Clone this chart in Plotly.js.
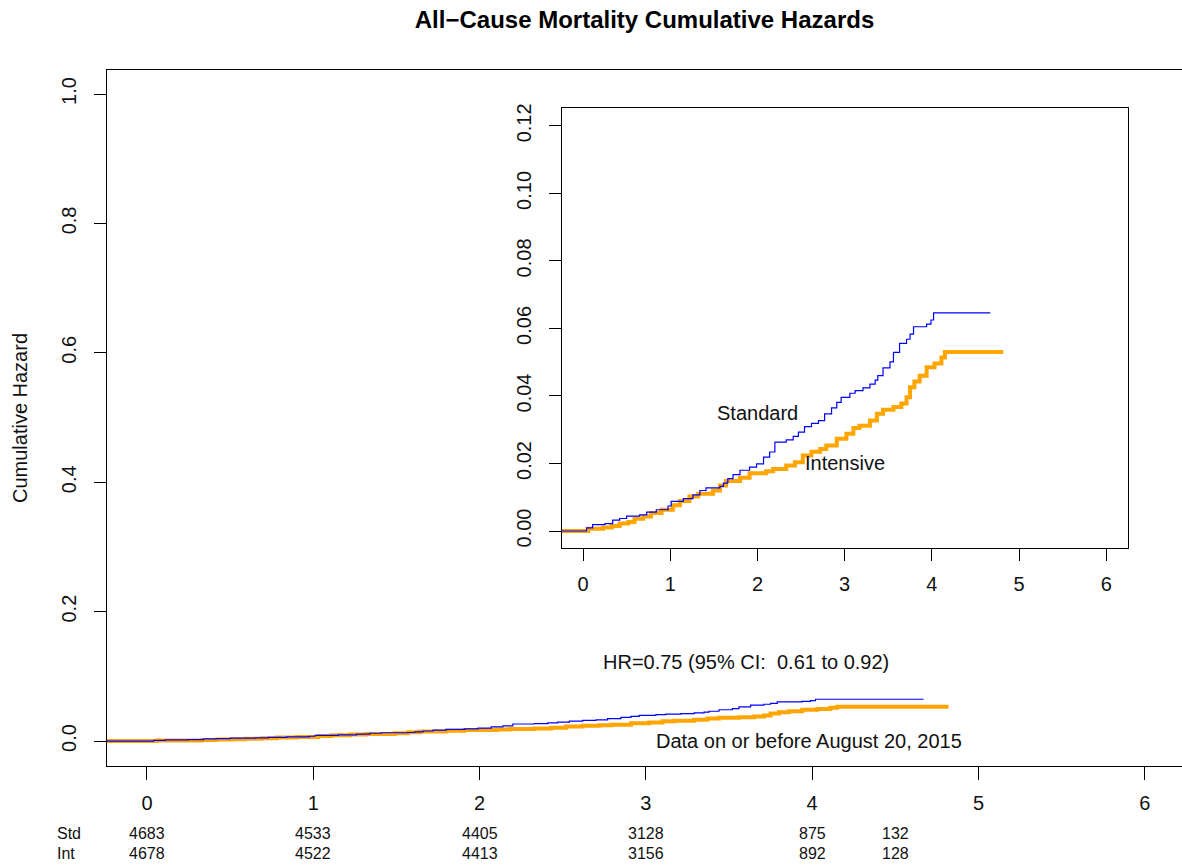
<!DOCTYPE html>
<html>
<head>
<meta charset="utf-8">
<script src="https://cdn.plot.ly/plotly-3.0.1.min.js"></script>
<style>html,body{margin:0;padding:0;background:#fff;} #chart{width:1182px;height:867px;}</style>
</head>
<body>
<div id="chart"></div>
<script>
// ---- data ----
const stdTime = [-0.25, 0.04, 0.11, 0.25, 0.34, 0.42, 0.50, 0.65, 0.73, 0.84, 0.975, 1.01, 1.15, 1.26, 1.34, 1.41, 1.57, 1.61, 1.66, 1.72, 1.80, 1.91, 1.99, 2.07, 2.14, 2.20, 2.33, 2.41, 2.47, 2.54, 2.62, 2.70, 2.77, 2.85, 2.91, 2.96, 3.06, 3.12, 3.21, 3.29, 3.35, 3.38, 3.44, 3.52, 3.56, 3.63, 3.71, 3.75, 3.79, 3.94, 3.99, 4.02, 4.67];
const stdHazard = [0, 0.0009, 0.0019, 0.0022, 0.0032, 0.0037, 0.0044, 0.0048, 0.0056, 0.0063, 0.0074, 0.0088, 0.0096, 0.0107, 0.0120, 0.0128, 0.0132, 0.0142, 0.0155, 0.0167, 0.0180, 0.0189, 0.0199, 0.0219, 0.0234, 0.0263, 0.0270, 0.0280, 0.0293, 0.0309, 0.0319, 0.0327, 0.0347, 0.0365, 0.0381, 0.0396, 0.0408, 0.0416, 0.0424, 0.0435, 0.0447, 0.0460, 0.0483, 0.0501, 0.0529, 0.0556, 0.0568, 0.0583, 0.0605, 0.0613, 0.0625, 0.0646, 0.0646];
const intTime = [-0.25, 0.06, 0.23, 0.33, 0.42, 0.52, 0.59, 0.69, 0.78, 0.90, 1.03, 1.11, 1.22, 1.32, 1.49, 1.57, 1.64, 1.80, 1.91, 2.10, 2.18, 2.33, 2.43, 2.52, 2.62, 2.72, 2.79, 2.91, 3.02, 3.10, 3.17, 3.29, 3.37, 3.44, 3.56, 3.65, 3.71, 3.75, 3.80, 3.86, 3.94, 4.03, 4.11, 4.15, 4.82];
const intHazard = [0, 0.0007, 0.0010, 0.0015, 0.0022, 0.0027, 0.0036, 0.0043, 0.0053, 0.0063, 0.0076, 0.0089, 0.0102, 0.0110, 0.0120, 0.0135, 0.0148, 0.0158, 0.0171, 0.0177, 0.0184, 0.0194, 0.0204, 0.0224, 0.0235, 0.0243, 0.0253, 0.0273, 0.0288, 0.0305, 0.0312, 0.0327, 0.0347, 0.0359, 0.0367, 0.0378, 0.0396, 0.0426, 0.0443, 0.0460, 0.0485, 0.0496, 0.0514, 0.0530, 0.0530];

const riskTimes = [0, 1, 2, 3, 4, 4.5];
const riskStd = [4683, 4533, 4405, 3128, 875, 132];
const riskInt = [4678, 4522, 4413, 3156, 892, 128];
const riskRowLabels = ["Std", "Int"];

const xTicks = [0, 1, 2, 3, 4, 5, 6];
const mainYTicks = [0, 0.2, 0.4, 0.6, 0.8, 1.0];
const insetYTicks = [0, 0.02, 0.04, 0.06, 0.08, 0.10, 0.12];

const titleText = "All\u2212Cause Mortality Cumulative Hazards";
const yTitleText = "Cumulative Hazard";
const hrText = "HR=0.75 (95% CI:  0.61 to 0.92)";
const dataNote = "Data on or before August 20, 2015";
const seriesNames = ["Standard", "Intensive"];

// ---- styling ----
const FONT = "'Liberation Sans', Arial, sans-serif";
const BLUE = "#0000FF";
const ORANGE = "#FFA500";
const TXT = "#111111";

function curve(x, y, color, width, xa, ya, name) {
  return {x: x, y: y, type: "scatter", mode: "lines", line: {shape: "hv", color: color, width: width},
          xaxis: xa, yaxis: ya, name: name, hoverinfo: "skip", showlegend: false};
}

const traces = [
  curve(intTime, intHazard, ORANGE, 4, "x", "y", seriesNames[1]),
  curve(stdTime, stdHazard, BLUE, 1.2, "x", "y", seriesNames[0]),
  curve(intTime, intHazard, ORANGE, 4, "x2", "y2", seriesNames[1]),
  curve(stdTime, stdHazard, BLUE, 1.2, "x2", "y2", seriesNames[0])
];

const annotations = [
  {x: 2.0, y: 0.035, xref: "x2", yref: "y2", text: seriesNames[0], showarrow: false, font: {size: 20, color: TXT, family: FONT}},
  {x: 3.0, y: 0.02, xref: "x2", yref: "y2", text: seriesNames[1], showarrow: false, font: {size: 20, color: TXT, family: FONT}},
  {x: 3.6, y: 0.122, xref: "x", yref: "y", text: hrText, showarrow: false, font: {size: 20, color: TXT, family: FONT}},
  {x: 3.98, y: 0.0, xref: "x", yref: "y", text: dataNote, showarrow: false, font: {size: 20, color: TXT, family: FONT}}
];
const rowY = [-0.0963, -0.125];
[riskStd, riskInt].forEach(function (row, r) {
  annotations.push({x: -0.0484, y: rowY[r], xref: "paper", yref: "paper", xanchor: "left", yanchor: "middle",
    text: riskRowLabels[r], showarrow: false, font: {size: 16, color: TXT, family: FONT}});
  row.forEach(function (v, i) {
    annotations.push({x: riskTimes[i], y: rowY[r], xref: "x", yref: "paper", xanchor: "center", yanchor: "middle",
      text: String(v), showarrow: false, font: {size: 16, color: TXT, family: FONT}});
  });
});

const axisCommon = {showgrid: false, zeroline: false, showline: true, linecolor: "#000", linewidth: 1.3,
  ticks: "outside", tickcolor: "#000", tickwidth: 1, tickfont: {size: 20, color: TXT, family: FONT}, fixedrange: true};

const layout = {
  width: 1182, height: 867,
  margin: {l: 107, r: 0, t: 70, b: 101},
  paper_bgcolor: "#fff", plot_bgcolor: "rgba(0,0,0,0)",
  font: {family: FONT, color: TXT},
  title: {text: titleText, font: {size: 24, weight: "bold", family: FONT, color: "#000"},
          xref: "paper", x: 0.5, xanchor: "center", yref: "container", y: 1 - 20 / 867, yanchor: "middle"},
  xaxis: Object.assign({}, axisCommon, {range: [-0.2405, 6.224], tickvals: xTicks, ticklen: 13, mirror: true,
          domain: [0, 1], anchor: "y", ticklabelstandoff: 6}),
  yaxis: Object.assign({}, axisCommon, {range: [-0.0386, 1.0371], tickvals: mainYTicks, tickformat: ".1f",
          ticklen: 12, tickangle: -90, domain: [0, 1], anchor: "x", ticklabelstandoff: 10,
          title: {text: yTitleText, font: {size: 20, color: TXT, family: FONT}, standoff: 24}}),
  xaxis2: Object.assign({}, axisCommon, {range: [-0.2408, 6.25], tickvals: xTicks, ticklen: 12, mirror: true,
          domain: [0.4233, 0.9498], anchor: "y2", ticklabelstandoff: 6}),
  yaxis2: Object.assign({}, axisCommon, {range: [-0.00504, 0.1253], tickvals: insetYTicks, tickformat: ".2f",
          ticklen: 12, tickangle: -90, mirror: true, domain: [0.3132, 0.9454], anchor: "x2", ticklabelstandoff: 10}),
  annotations: annotations,
  showlegend: false
};

Plotly.newPlot("chart", traces, layout, {displayModeBar: false, staticPlot: true});
</script>
</body>
</html>
